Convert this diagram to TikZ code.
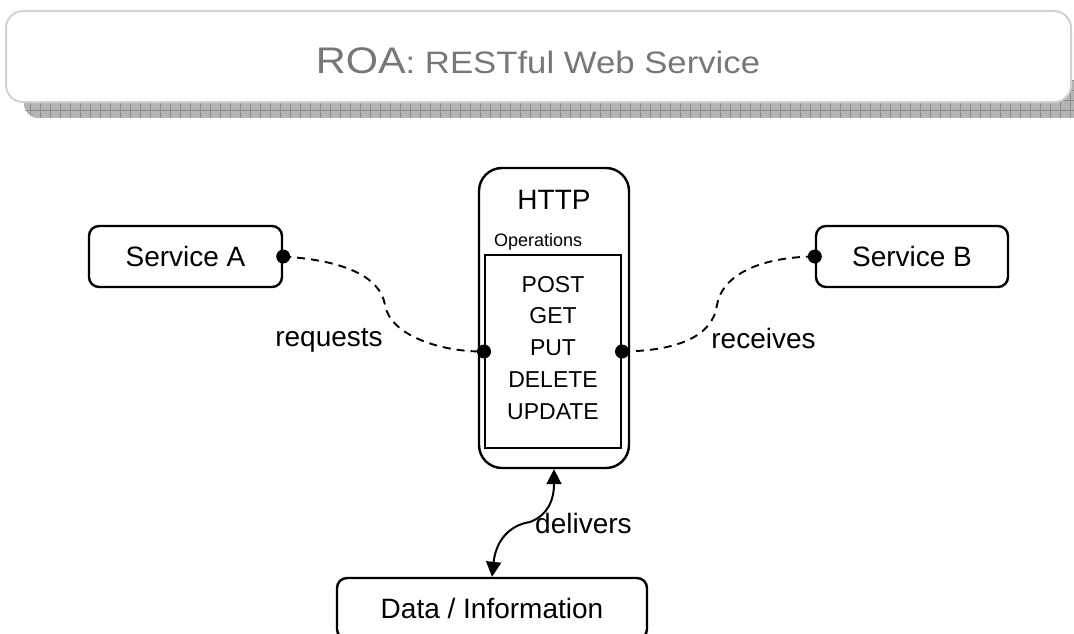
\documentclass[tikz,border=0pt]{standalone}
\usepackage{fontspec}
\usepackage{graphicx}
\setmainfont{Liberation Sans}
\usetikzlibrary{arrows.meta,positioning}

\definecolor{titlegray}{HTML}{777777}
\definecolor{framegray}{HTML}{D2D2D2}
\definecolor{shadowfill}{HTML}{B4B4B4}
\definecolor{shadowline}{HTML}{8C8C8C}

\tikzset{
  box/.style={draw,line width=2.4pt,rounded corners=10pt,font=\fontsize{28}{28}\selectfont},
  dot/.style={circle,fill,inner sep=0pt,minimum size=14pt},
  link/.style={line width=1.9pt,dash pattern=on 8pt off 6pt},
  lbl/.style={font=\fontsize{28}{28}\selectfont},
  opfont/.style={font=\fontsize{23}{23}\selectfont}
}

\begin{document}
\begin{tikzpicture}[x=1pt,y=-1pt]
  \useasboundingbox (0,0) rectangle (1074,634);

  % title banner with its shadow
  \begin{scope}
    \clip[rounded corners=14pt] (24,80) rectangle (1090,118);
    \fill[shadowfill] (20,80) rectangle (1090,118);
    \draw[shadowline,line width=0.6pt,step=10pt] (20,80) grid (1090,118);
  \end{scope}
  \node[draw=framegray,line width=2pt,fill=white,rounded corners=17pt,
        minimum width=1065pt,minimum height=91pt] (banner) at (538.5,56.5) {};
  \node[anchor=base,text=titlegray,inner sep=0pt] (bannertext) at (538,74)
    {\scalebox{1.12}[1]{\fontsize{37}{37}\selectfont ROA\fontsize{31}{31}\selectfont: RESTful Web Service}};

  % services
  \node[box,minimum width=193pt,minimum height=61pt] (srvA) at (185.5,256.5) {Service A};
  \node[box,minimum width=192pt,minimum height=61pt] (srvB) at (912,256.5) {Service B};

  % HTTP with its operations
  \node[box,rounded corners=23pt,minimum width=150pt,minimum height=300pt] (http) at (554,318) {};
  \node[lbl] (httptext) at (554,200) {HTTP};
  \node[anchor=base west,inner sep=0pt,font=\fontsize{18}{18}\selectfont] (ops) at (494,246) {Operations};
  \node[draw,line width=2pt,minimum width=136pt,minimum height=193pt] (oplist) at (553,351.5) {};
  \foreach \op [count=\i] in {POST,GET,PUT,DELETE,UPDATE}
    \node[opfont,anchor=base,inner sep=0pt] (op\i) at (553,260.25+31.75*\i) {\op};

  % data
  \node[box,minimum width=310pt,minimum height=61pt] (data) at (492,608.5) {Data / Information};

  % connectors
  \draw[link] (srvA.east) .. controls (340,260) and (380,275) .. (385,305)
              .. controls (390,335) and (440,352) .. (oplist.west);
  \draw[link] (oplist.east) .. controls (680,351) and (713,335) .. (717,305)
              .. controls (722,275) and (760,257) .. (srvB.west);
  \node[dot] (dotA) at (srvA.east) {};
  \node[dot] (dotB) at (srvB.west) {};
  \node[dot] (dotL) at (oplist.west) {};
  \node[dot] (dotR) at (oplist.east) {};
  \draw[line width=2pt,{Triangle[length=15pt,width=15pt]}-{Triangle[length=15pt,width=15pt]}]
    (data.north) .. controls (496,540) and (510,525) .. (530,522)
    .. controls (548,515) and (554,500) .. (http.south);

  % labels
  \node[lbl,anchor=base,inner sep=0pt] (reqtext) at (329,346) {requests};
  \node[lbl,anchor=base,inner sep=0pt] (rectext) at (763.5,348) {receives};
  \node[lbl,anchor=base west,inner sep=0pt] (deltext) at (535,533) {delivers};
\end{tikzpicture}
\end{document}
